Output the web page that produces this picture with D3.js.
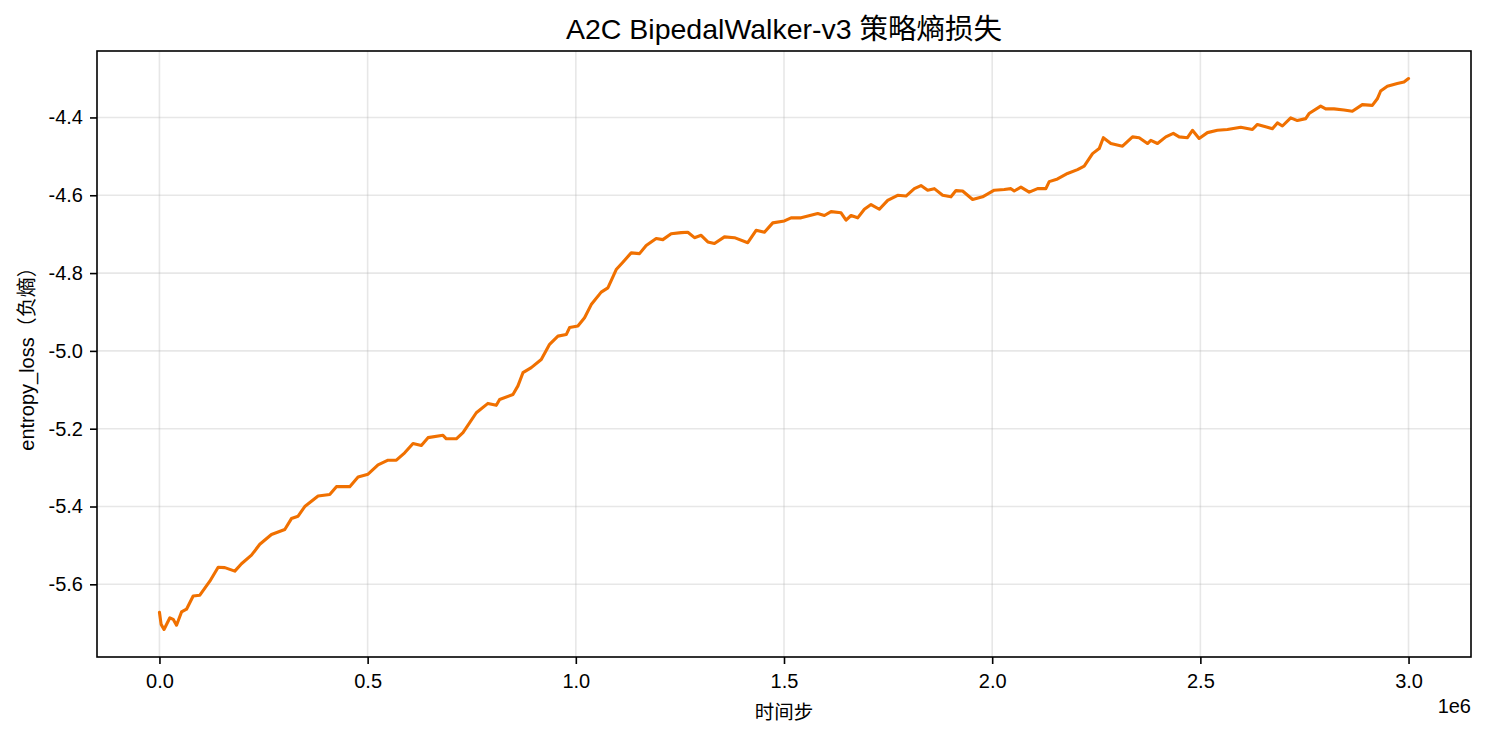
<!DOCTYPE html>
<html>
<head>
<meta charset="utf-8">
<script src="https://cdn.jsdelivr.net/npm/d3@7"></script>
<style>
  html, body { margin: 0; padding: 0; background: #ffffff; }
  svg { display: block; font-family: "Liberation Sans", Arial, "Noto Sans CJK SC", sans-serif; }
</style>
</head>
<body>
<svg id="chart" width="1485" height="734"></svg>
<script>
const titleText = "A2C BipedalWalker-v3 策略熵损失";
const xLabelText = "时间步";
const yLabelText = "entropy_loss（负熵）";
const xOffsetText = "1e6";

const steps = [
  0, 4000, 11000, 25000, 33000, 41000, 53000, 65000, 81000, 97000,
  121000, 141000, 157000, 181000, 197000, 221000, 241000, 269000, 301000, 317000,
  333000, 349000, 381000, 409000, 425000, 457000, 477000, 501000, 525000, 549000,
  569000, 589000, 609000, 629000, 645000, 681000, 689000, 713000, 729000, 761000,
  789000, 809000, 817000, 849000, 861000, 873000, 893000, 917000, 937000, 957000,
  977000, 985000, 1005000, 1021000, 1037000, 1061000, 1077000, 1097000, 1113000, 1133000,
  1153000, 1169000, 1193000, 1209000, 1229000, 1253000, 1269000, 1285000, 1301000, 1317000,
  1333000, 1357000, 1381000, 1413000, 1433000, 1453000, 1473000, 1501000, 1517000, 1541000,
  1581000, 1597000, 1613000, 1637000, 1649000, 1661000, 1677000, 1693000, 1709000, 1729000,
  1749000, 1773000, 1793000, 1813000, 1829000, 1845000, 1861000, 1881000, 1901000, 1913000,
  1929000, 1953000, 1977000, 2005000, 2029000, 2045000, 2053000, 2069000, 2089000, 2109000,
  2129000, 2137000, 2157000, 2181000, 2205000, 2221000, 2241000, 2257000, 2267000, 2285000,
  2313000, 2337000, 2353000, 2373000, 2381000, 2397000, 2417000, 2435000, 2449000, 2469000,
  2481000, 2497000, 2517000, 2541000, 2565000, 2597000, 2625000, 2637000, 2661000, 2673000,
  2685000, 2697000, 2717000, 2733000, 2753000, 2761000, 2789000, 2801000, 2821000, 2845000,
  2865000, 2889000, 2913000, 2925000, 2933000, 2949000, 2973000, 2989000, 3000000
];

const entropyLoss = [
  -5.672, -5.703, -5.716, -5.686, -5.690, -5.705, -5.671, -5.664, -5.630, -5.628,
  -5.592, -5.556, -5.557, -5.566, -5.547, -5.525, -5.497, -5.472, -5.459, -5.431,
  -5.425, -5.400, -5.373, -5.369, -5.349, -5.349, -5.324, -5.317, -5.293, -5.281,
  -5.281, -5.262, -5.238, -5.243, -5.223, -5.217, -5.226, -5.226, -5.210, -5.159,
  -5.135, -5.140, -5.125, -5.112, -5.090, -5.056, -5.043, -5.022, -4.983, -4.962,
  -4.958, -4.940, -4.936, -4.915, -4.881, -4.849, -4.838, -4.791, -4.772, -4.748,
  -4.750, -4.729, -4.711, -4.714, -4.699, -4.696, -4.695, -4.709, -4.703, -4.720,
  -4.724, -4.707, -4.709, -4.722, -4.690, -4.695, -4.671, -4.666, -4.658, -4.658,
  -4.647, -4.652, -4.642, -4.645, -4.664, -4.652, -4.658, -4.636, -4.624, -4.636,
  -4.613, -4.600, -4.602, -4.583, -4.575, -4.587, -4.583, -4.600, -4.604, -4.588,
  -4.589, -4.611, -4.604, -4.587, -4.585, -4.583, -4.589, -4.579, -4.592, -4.583,
  -4.583, -4.565, -4.558, -4.544, -4.534, -4.525, -4.493, -4.480, -4.452, -4.467,
  -4.474, -4.450, -4.452, -4.467, -4.459, -4.467, -4.450, -4.441, -4.450, -4.452,
  -4.433, -4.454, -4.439, -4.433, -4.431, -4.425, -4.431, -4.418, -4.425, -4.429,
  -4.414, -4.422, -4.401, -4.408, -4.403, -4.390, -4.371, -4.378, -4.378, -4.381,
  -4.384, -4.367, -4.369, -4.352, -4.332, -4.320, -4.313, -4.309, -4.300
];

const xTickValues = [0, 500000, 1000000, 1500000, 2000000, 2500000, 3000000];
const xTickLabels = ["0.0", "0.5", "1.0", "1.5", "2.0", "2.5", "3.0"];
const yTickValues = [-5.6, -5.4, -5.2, -5.0, -4.8, -4.6, -4.4];
const yTickLabels = ["-5.6", "-5.4", "-5.2", "-5.0", "-4.8", "-4.6", "-4.4"];

const svg = d3.select("#chart");
const W = 1485, H = 734;
const margin = { left: 97, right: W - 1471, top: 51, bottom: H - 657 };
const pw = W - margin.left - margin.right;
const ph = H - margin.top - margin.bottom;

const data = steps.map((s, i) => ({ x: s, y: entropyLoss[i] }));

const xExt = d3.extent(steps);
const yExt = d3.extent(entropyLoss);
const xPad = (xExt[1] - xExt[0]) * 0.05;
const yPad = (yExt[1] - yExt[0]) * 0.05;

const x = d3.scaleLinear().domain([xExt[0] - xPad, xExt[1] + xPad]).range([0, pw]);
const y = d3.scaleLinear().domain([yExt[0] - yPad, yExt[1] + yPad]).range([ph, 0]);

const g = svg.append("g").attr("transform", `translate(${margin.left},${margin.top})`);

// grid
g.append("g").selectAll("line").data(xTickValues).join("line")
  .attr("x1", d => x(d)).attr("x2", d => x(d))
  .attr("y1", 0).attr("y2", ph)
  .attr("stroke", "#b0b0b0").attr("stroke-opacity", 0.3).attr("stroke-width", 1.6);
g.append("g").selectAll("line").data(yTickValues).join("line")
  .attr("y1", d => y(d)).attr("y2", d => y(d))
  .attr("x1", 0).attr("x2", pw)
  .attr("stroke", "#b0b0b0").attr("stroke-opacity", 0.3).attr("stroke-width", 1.6);

// line
const line = d3.line().x(d => x(d.x)).y(d => y(d.y));
g.append("path").datum(data)
  .attr("fill", "none")
  .attr("stroke", "#f07000")
  .attr("stroke-width", 3.1)
  .attr("stroke-linejoin", "round")
  .attr("stroke-linecap", "round")
  .attr("d", line);

// axes
const xAxis = d3.axisBottom(x).tickValues(xTickValues)
  .tickFormat((d, i) => xTickLabels[i]).tickSize(7).tickPadding(6);
const yAxis = d3.axisLeft(y).tickValues(yTickValues)
  .tickFormat((d, i) => yTickLabels[i]).tickSize(7).tickPadding(7);

const gx = g.append("g").attr("transform", `translate(0,${ph})`).call(xAxis);
const gy = g.append("g").call(yAxis);
[gx, gy].forEach(a => {
  a.select(".domain").remove();
  a.selectAll(".tick line").attr("stroke", "#000").attr("stroke-width", 1.6);
  a.selectAll(".tick text")
    .attr("fill", "#000")
    .style("font-family", '"Liberation Sans", Arial, sans-serif')
    .style("font-size", "20px");
});
gx.selectAll(".tick text").attr("dy", "0.9em");

// frame
g.append("rect").attr("x", 0).attr("y", 0).attr("width", pw).attr("height", ph)
  .attr("fill", "none").attr("stroke", "#000").attr("stroke-width", 1.6);

// title
svg.append("text")
  .attr("x", margin.left + pw / 2).attr("y", 39)
  .attr("text-anchor", "middle")
  .style("font-size", "28.5px").attr("fill", "#000")
  .text(titleText);

// x label
svg.append("text")
  .attr("x", margin.left + pw / 2).attr("y", 719)
  .attr("text-anchor", "middle")
  .style("font-size", "19.5px").attr("fill", "#000")
  .text(xLabelText);

// offset text
svg.append("text")
  .attr("x", margin.left + pw).attr("y", 713)
  .attr("text-anchor", "end")
  .style("font-size", "20px").attr("fill", "#000")
  .text(xOffsetText);

// y label
svg.append("text")
  .attr("transform", `translate(34,${margin.top + ph / 2}) rotate(-90)`)
  .attr("text-anchor", "middle")
  .style("font-size", "20px").attr("fill", "#000")
  .text(yLabelText);
</script>
</body>
</html>
